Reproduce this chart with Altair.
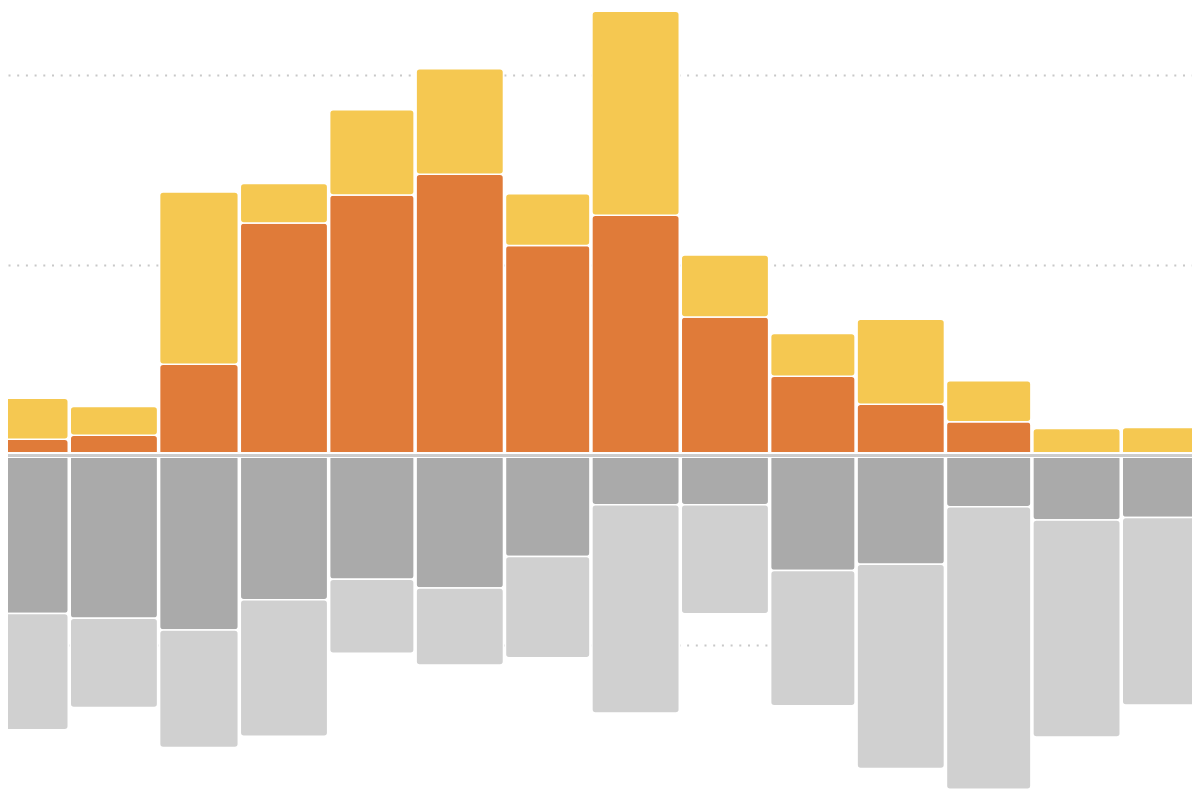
import altair as alt
import pandas as pd

# Month starts (Dec of previous year through Jan of following year)
months = ["2020-12-01", "2021-01-01", "2021-02-01", "2021-03-01", "2021-04-01",
          "2021-05-01", "2021-06-01", "2021-07-01", "2021-08-01", "2021-09-01",
          "2021-10-01", "2021-11-01", "2021-12-01", "2022-01-01"]

# Upward stack (near zero first)
orange = [8.4, 10.6, 47.9, 122.3, 137.0, 147.9, 110.4, 126.3, 72.8, 41.6, 26.9, 17.6, 0.0, 0.0]
yellow = [21.6, 15.1, 90.7, 20.7, 44.9, 55.6, 27.2, 107.4, 32.6, 22.5, 44.7, 21.6, 14.1, 14.6]
# Downward stack (near zero first)
dark_gray = [83.2, 85.7, 92.0, 76.0, 65.3, 69.9, 53.2, 26.0, 26.0, 60.6, 57.4, 27.1, 34.1, 32.7]
light_gray = [61.2, 47.1, 61.8, 71.9, 38.9, 40.5, 53.3, 109.6, 57.4, 71.2, 107.5, 148.6, 114.1, 98.7]

series_names = ["orange", "yellow", "dark", "light"]
series_colors = ["#e07b39", "#f5c851", "#aaaaaa", "#d0d0d0"]
grid_values = [-200, -100, 100, 200]

rows = []
for i, m in enumerate(months):
    start = pd.Timestamp(m)
    end = start + pd.offsets.MonthBegin(1)
    s, e = start.strftime("%Y-%m-%d"), end.strftime("%Y-%m-%d")
    rows.append({"start": s, "end": e, "series": "orange", "rank": 0, "value": orange[i]})
    rows.append({"start": s, "end": e, "series": "yellow", "rank": 1, "value": yellow[i]})
    rows.append({"start": s, "end": e, "series": "dark", "rank": 0, "value": -dark_gray[i]})
    rows.append({"start": s, "end": e, "series": "light", "rank": 1, "value": -light_gray[i]})
df = pd.DataFrame(rows)

def ms(ts):
    return int(pd.Timestamp(ts).value // 1_000_000)

x_domain = [ms("2020-12-10 09:36"), ms("2022-01-25 04:48")]
y_domain = [-177.21, 235.42]

x_scale = alt.Scale(type="utc", domain=x_domain, nice=False)
y_scale = alt.Scale(domain=y_domain, nice=False, zero=False)
y_axis = alt.Axis(values=grid_values, grid=True, gridDash=[2, 6.7], gridColor="#c8c8c8",
                  gridWidth=2, labels=False, ticks=False, domain=False, title=None)

bars = alt.Chart(df).transform_stack(
    stack="value", as_=["v0", "v1"], groupby=["start"], sort=[alt.SortField("rank")], offset="zero"
).mark_bar(
    stroke="white", strokeWidth=1.5, cornerRadius=3.5, x2Offset=-2, clip=True
).encode(
    x=alt.X("start:T", scale=x_scale, axis=None),
    x2="end:T",
    y=alt.Y("v0:Q", scale=y_scale, axis=y_axis),
    y2="v1:Q",
    color=alt.Color("series:N", scale=alt.Scale(domain=series_names, range=series_colors), legend=None),
)

zero_white = alt.Chart(df).mark_rule(color="white", strokeWidth=5).encode(
    y=alt.Y(datum=0, scale=y_scale, axis=y_axis))
zero_gray = alt.Chart(df).mark_rule(color="#cccccc", strokeWidth=2).encode(
    y=alt.Y(datum=0, scale=y_scale, axis=y_axis))

chart = alt.layer(bars, zero_white, zero_gray).properties(
    width=1184, height=784, autosize=alt.AutoSizeParams(type="none"), padding=0
).configure_view(stroke=None)

chart.save("out.html", embed_options={"renderer": "svg", "actions": False})
